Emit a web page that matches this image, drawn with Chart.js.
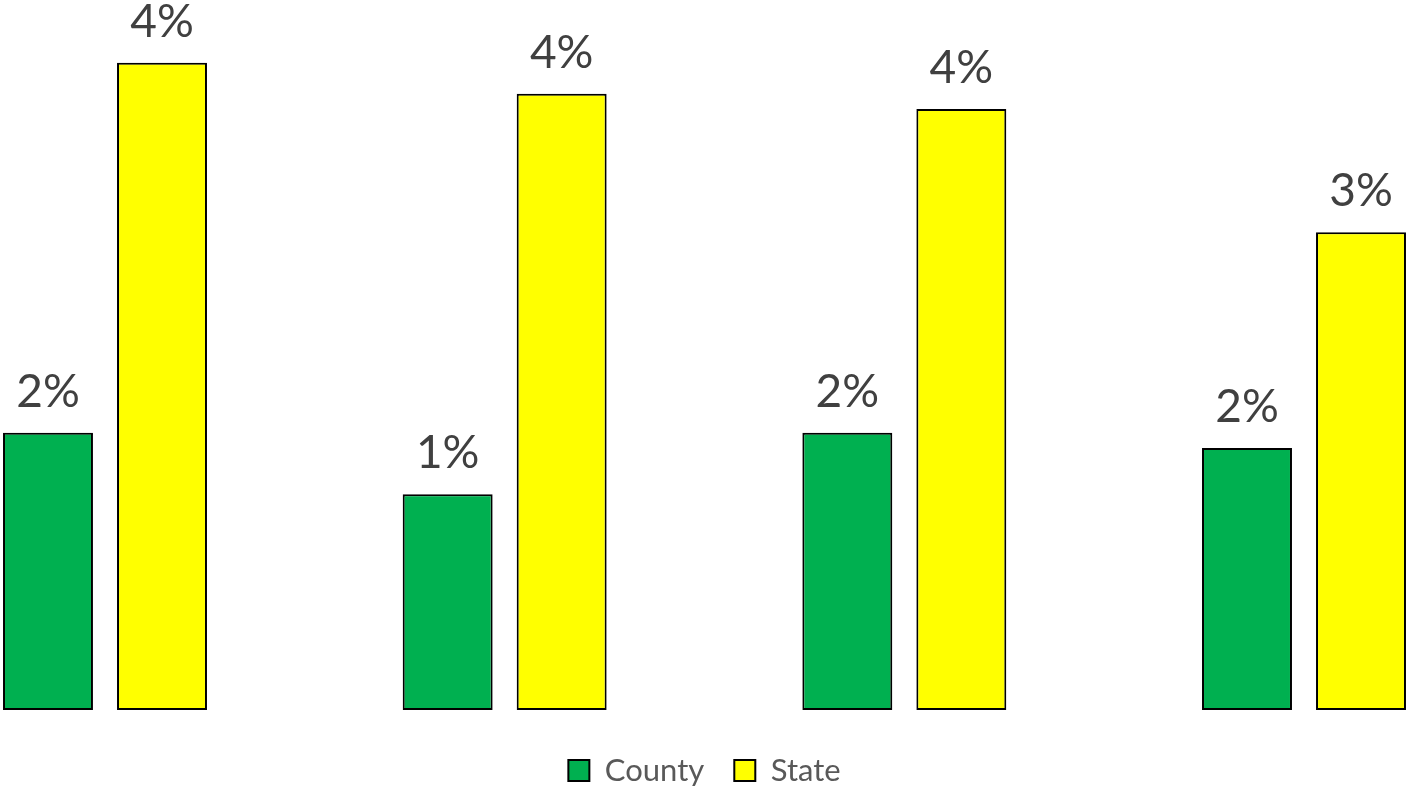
<!DOCTYPE html>
<html>
<head>
<meta charset="utf-8">
<script src="https://cdn.jsdelivr.net/npm/chart.js@4/dist/chart.umd.min.js"></script>
<style>
  html, body { margin: 0; padding: 0; background: #ffffff; }
  #wrap { width: 1409px; height: 789px; position: relative; }
</style>
</head>
<body>
<div id="wrap"><canvas id="c" width="1409" height="789"></canvas></div>
<script>
const categories = ["Group 1", "Group 2", "Group 3", "Group 4"];
const countyValues = [1.80, 1.40, 1.80, 1.70];
const stateValues = [4.20, 4.00, 3.90, 3.10];
const seriesNames = ["County", "State"];

const labelPlugin = {
  id: 'barLabels',
  afterDatasetsDraw(chart) {
    const ctx = chart.ctx;
    ctx.save();
    ctx.fillStyle = '#404040';
    ctx.font = '46px Lato, "Open Sans", sans-serif';
    ctx.textAlign = 'center';
    ctx.textBaseline = 'alphabetic';
    chart.data.datasets.forEach((ds, di) => {
      const meta = chart.getDatasetMeta(di);
      meta.data.forEach((bar, i) => {
        ctx.fillText(Math.round(ds.data[i]) + '%', bar.x, bar.y - 26);
      });
    });
    ctx.restore();
  }
};

const legendShift = {
  id: 'legendShift',
  afterLayout(chart) {
    if (chart.legend) {
      chart.legend.top += 15;
      chart.legend.bottom += 15;
    }
  }
};

new Chart(document.getElementById('c'), {
  type: 'bar',
  data: {
    labels: categories,
    datasets: [
      { label: seriesNames[0], data: countyValues, backgroundColor: '#00B050', borderColor: '#000000', borderWidth: 2, borderSkipped: false, clip: false },
      { label: seriesNames[1], data: stateValues, backgroundColor: '#FFFF00', borderColor: '#000000', borderWidth: 2, borderSkipped: false, clip: false }
    ]
  },
  options: {
    responsive: false,
    animation: false,
    layout: { padding: { left: 105, right: 105, top: 0, bottom: 8 } },
    datasets: { bar: { categoryPercentage: 0.5705, barPercentage: 0.789 } },
    scales: {
      x: { display: false, offset: false },
      y: { display: false, min: 0, max: 4.608 }
    },
    plugins: {
      legend: {
        position: 'bottom',
        labels: {
          boxWidth: 21, boxHeight: 21, color: '#595959',
          font: { size: 31, family: 'Lato, "Open Sans", sans-serif' },
          padding: 30
        }
      },
      tooltip: { enabled: false }
    }
  },
  plugins: [labelPlugin, legendShift]
});
</script>
</body>
</html>
